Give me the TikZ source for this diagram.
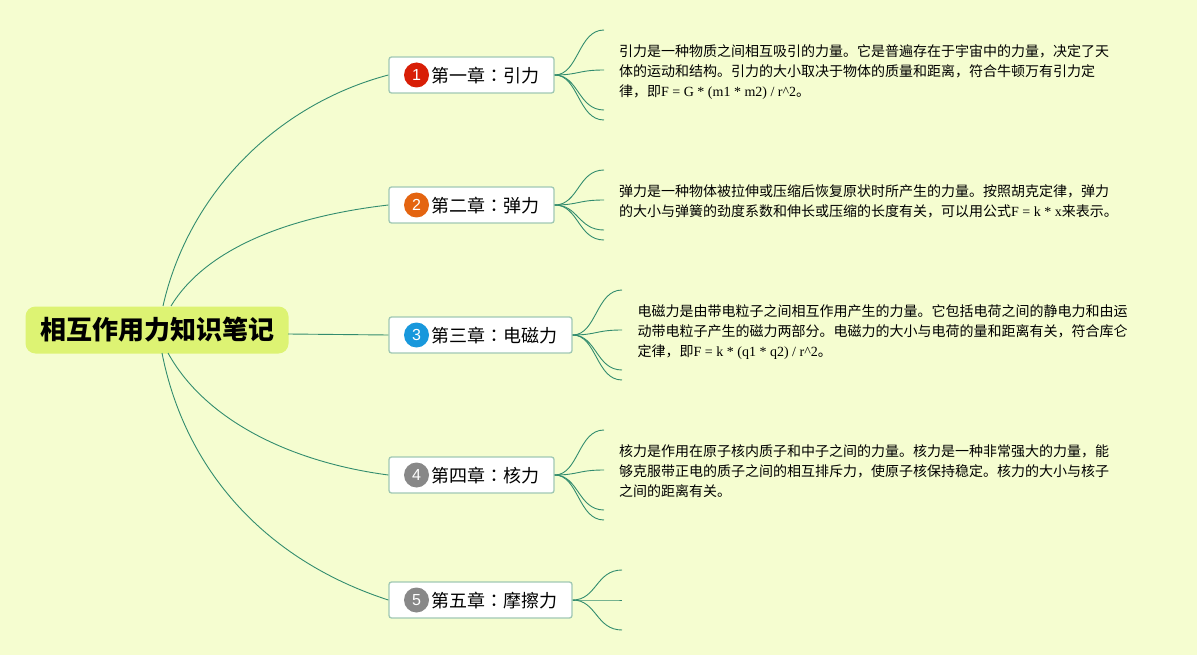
\documentclass[tikz,border=0pt]{standalone}
\usepackage{fontspec}
\setmainfont{Liberation Serif}
\newfontfamily\cjk{Noto Sans CJK SC}
\newfontfamily\cjktc{Noto Sans CJK TC}
\newfontfamily\iconfont{Liberation Sans}
\newcommand{\chapcolon}{{\cjktc ：}}
\definecolor{mapbg}{RGB}{245,253,208}
\definecolor{rootfill}{RGB}{221,243,115}
\definecolor{branchline}{RGB}{50,140,110}
\definecolor{boxline}{RGB}{160,200,180}
\definecolor{iconred}{RGB}{216,30,6}
\definecolor{iconorange}{RGB}{228,100,16}
\definecolor{iconblue}{RGB}{24,152,220}
\definecolor{icongrey}{RGB}{136,136,136}
\begin{document}
\begin{tikzpicture}[
  x=1pt, y=-1pt,
  rootn/.style={fill=rootfill, rounded corners=10pt, minimum width=263pt, minimum height=47pt, inner sep=0pt, font=\cjk\fontsize{26}{30}\selectfont\bfseries},
  chap/.style={draw=boxline, line width=1.3pt, fill=white, rounded corners=2.5pt, minimum height=36pt, inner sep=0pt},
  chaptxt/.style={inner sep=0pt, anchor=west, font=\cjk\fontsize{18}{22}\selectfont},
  badge/.style={circle, minimum size=25pt, inner sep=0pt, text=white, font=\iconfont\fontsize{16}{16}\selectfont},
  note/.style={inner sep=0pt, anchor=west, align=left, font=\fontsize{14}{20}\selectfont},
  link/.style={draw=branchline, line width=0.9pt}]
\useasboundingbox (0,0) rectangle (1197,655);
\fill[mapbg] (0,0) rectangle (1197,655);
% branches first, so the boxes sit on top
\coordinate (rs1) at (163,306);
\coordinate (rs2) at (171,306);
\coordinate (rs3) at (288,334);
\coordinate (rs4) at (168,353);
\coordinate (rs5) at (162,353);
\node[chap, minimum width=165pt] (c1) at (471.5,75) {};
\node[chap, minimum width=165pt] (c2) at (471.5,205) {};
\node[chap, minimum width=183pt] (c3) at (480.5,335) {};
\node[chap, minimum width=165pt] (c4) at (471.5,475) {};
\node[chap, minimum width=183pt] (c5) at (480.5,600) {};
\node[rootn] (root) at (157,330) {\raisebox{-1pt}{相互作用力知识笔记}};
\draw[link] (rs1) .. controls (188,195) and (275,105) .. (c1.west);
\draw[link] (rs2) .. controls (205,250) and (285,217) .. (c2.west);
\draw[link] (rs3) -- (c3.west);
\draw[link] (rs4) .. controls (205,420) and (290,462) .. (c4.west);
\draw[link] (rs5) .. controls (185,470) and (265,560) .. (c5.west);
\node[badge, fill=iconred] (b1) at (416.5,75) {1};
\node[badge, fill=iconorange] (b2) at (416.5,205) {2};
\node[badge, fill=iconblue] (b3) at (416.5,335) {3};
\node[badge, fill=icongrey] (b4) at (416.5,475) {4};
\node[badge, fill=icongrey] (b5) at (416.5,600) {5};
\node[chaptxt] (t1) at (431,76) {第一章\chapcolon 引力};
\node[chaptxt] (t2) at (431,206) {第二章\chapcolon 弹力};
\node[chaptxt] (t3) at (431,336) {第三章\chapcolon 电磁力};
\node[chaptxt] (t4) at (431,476) {第四章\chapcolon 核力};
\node[chaptxt] (t5) at (431,601) {第五章\chapcolon 摩擦力};
% leaf ends
\coordinate (e11) at (604,30);
\coordinate (e12) at (604,70);
\coordinate (e13) at (604,110);
\coordinate (e14) at (604,120);
\coordinate (e21) at (604,170);
\coordinate (e22) at (604,200);
\coordinate (e23) at (604,230);
\coordinate (e24) at (604,240);
\coordinate (e31) at (622,290);
\coordinate (e32) at (622,330);
\coordinate (e33) at (622,370);
\coordinate (e34) at (622,380);
\coordinate (e41) at (604,430);
\coordinate (e42) at (604,470);
\coordinate (e43) at (604,510);
\coordinate (e44) at (604,520);
\coordinate (e51) at (622,570);
\coordinate (e52) at (622,600);
\coordinate (e53) at (622,630);
\foreach \c in {1,2,3,4}
  \foreach \k in {1,2,3,4}
    \draw[link] (c\c.east) .. controls +(24,0) and +(-26,0) .. (e\c\k);
\foreach \k in {1,2,3}
  \draw[link] (c5.east) .. controls +(24,0) and +(-26,0) .. (e5\k);
\node[note] (n1) at (619,71.6) {{\cjk 引力是一种物质之间相互吸引的力量。它是普遍存在于宇宙中的力量，决定了天}\\{\cjk 体的运动和结构。引力的大小取决于物体的质量和距离，符合牛顿万有引力定}\\{\cjk 律，即}F = G * (m1 * m2) / r\^{}2{\cjk 。}};
\node[note] (n2) at (619,201.6) {{\cjk 弹力是一种物体被拉伸或压缩后恢复原状时所产生的力量。按照胡克定律，弹力}\\{\cjk 的大小与弹簧的劲度系数和伸长或压缩的长度有关，可以用公式}F = k * x{\cjk 来表示。}};
\node[note] (n3) at (637.5,331.6) {{\cjk 电磁力是由带电粒子之间相互作用产生的力量。它包括电荷之间的静电力和由运}\\{\cjk 动带电粒子产生的磁力两部分。电磁力的大小与电荷的量和距离有关，符合库仑}\\{\cjk 定律，即}F = k * (q1 * q2) / r\^{}2{\cjk 。}};
\node[note] (n4) at (619,471.6) {{\cjk 核力是作用在原子核内质子和中子之间的力量。核力是一种非常强大的力量，能}\\{\cjk 够克服带正电的质子之间的相互排斥力，使原子核保持稳定。核力的大小与核子}\\{\cjk 之间的距离有关。}};
\end{tikzpicture}
\end{document}
